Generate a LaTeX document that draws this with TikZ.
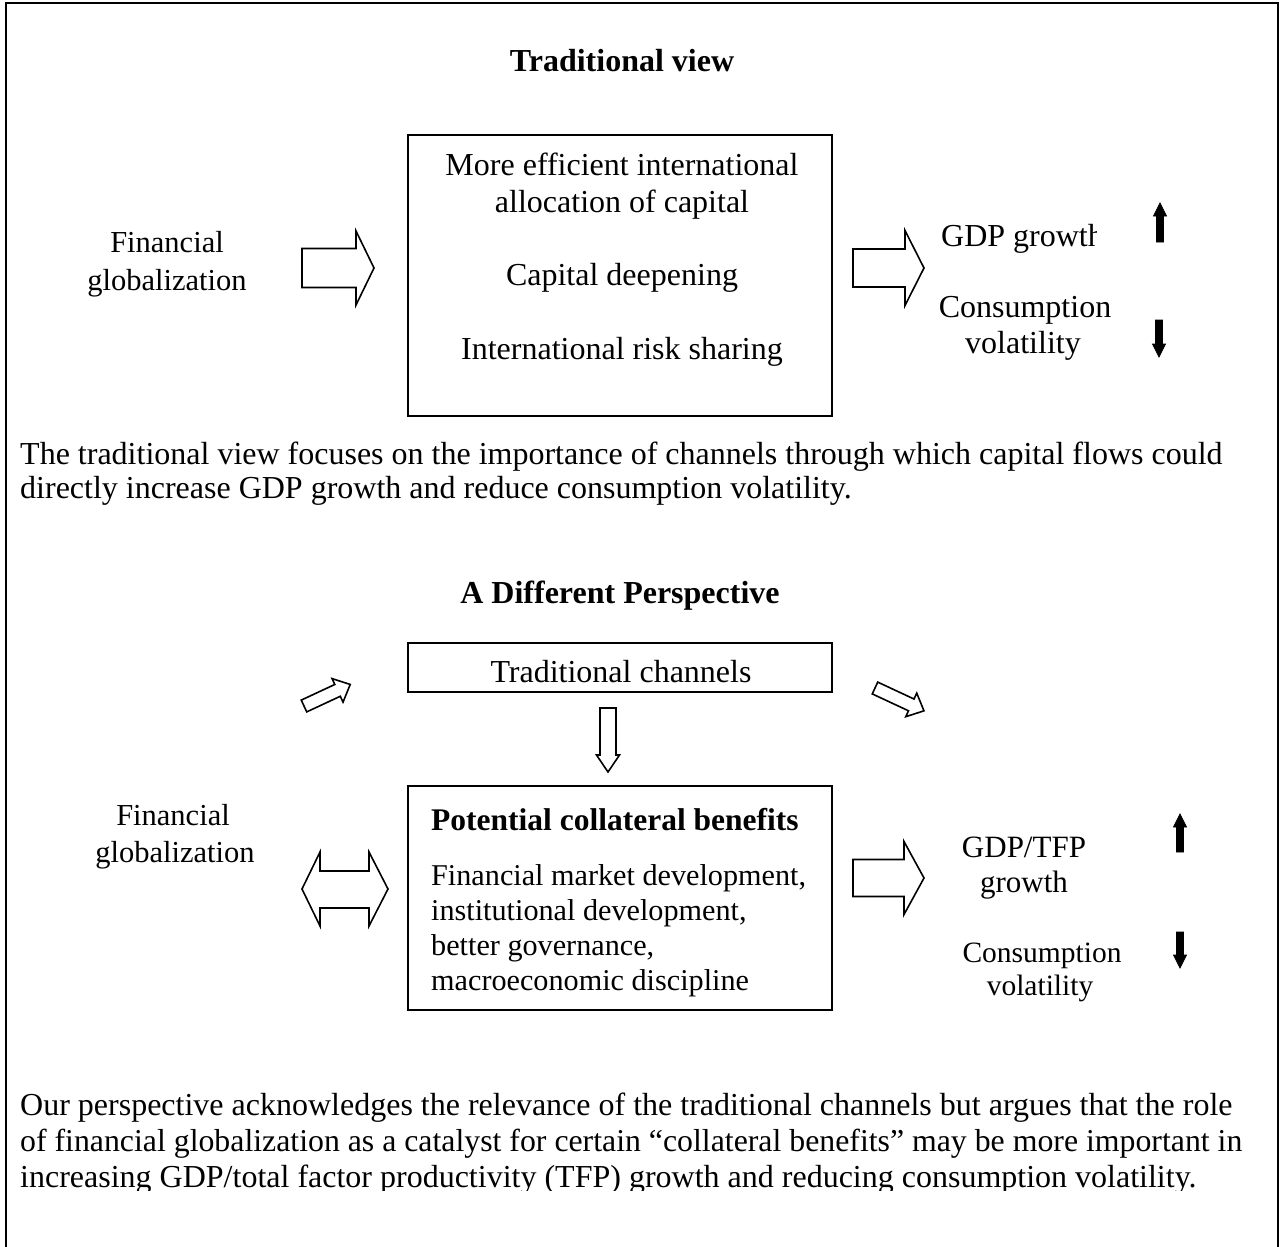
\documentclass[tikz,border=0pt]{standalone}
\usepackage{fontspec}
\setmainfont{Liberation Serif}
\newcommand{\blockarr}[8][]{%
  \draw[#1, shift={(#2,#3)}, rotate=#4] (0,-#6) -- (#5-#8,-#6) -- (#5-#8,-#7) -- (#5,0)
    -- (#5-#8,#7) -- (#5-#8,#6) -- (0,#6) -- cycle;}
\begin{document}
\begin{tikzpicture}[x=1pt,y=-1pt,
  txt/.style={inner sep=0pt, anchor=base, font=\fontsize{32}{36}\selectfont},
  txtl/.style={txt, anchor=base west},
  txtb/.style={inner sep=0pt, anchor=base west, font=\fontsize{30.2}{34}\selectfont},
  txtg/.style={inner sep=0pt, anchor=base, font=\fontsize{30.5}{34}\selectfont},
  txtr/.style={inner sep=0pt, anchor=base, font=\fontsize{31}{34}\selectfont},
  txts/.style={inner sep=0pt, anchor=base, font=\fontsize{29.5}{33}\selectfont},
  ttl/.style={txt, font=\fontsize{32}{36}\selectfont\bfseries},
  boxst/.style={draw, line width=2pt, inner sep=0pt},
  blk/.style={draw, line width=1.6pt, fill=white, line join=miter},
  solid arr/.style={draw, line width=0.8pt, fill=black}]
\useasboundingbox (0,0) rectangle (1280,1247);
% frame
\draw[line width=2pt] (5.8,1300) -- (5.8,3.5) -- (1278,3.5) -- (1278,1300);

% ---------------- Traditional view ----------------
\node[ttl] (t1) at (622,72) {Traditional view};
\node[boxst, minimum width=424, minimum height=281] (box1) at (620,275.5) {};
\node[txt] (b1a) at (622,175) {More efficient international};
\node[txt] (b1b) at (622,212) {allocation of capital};
\node[txt] (b1c) at (622,285) {Capital deepening};
\node[txt] (b1d) at (622,359) {International risk sharing};
\node[txtg] (fg1a) at (167,252) {Financial};
\node[txtg] (fg1b) at (167,290) {globalization};
\blockarr[blk]{302}{268}{0}{72}{19.5}{37}{18}
\blockarr[blk]{853}{268}{0}{71}{19}{37.5}{19}
\begin{scope}
  \clip (930,200) rectangle (1096,270);
  \node[txtl] (gdp1) at (941,246) {GDP growth};
\end{scope}
\node[txt] (cv1a) at (1025,317) {Consumption};
\node[txt] (cv1b) at (1023,353) {volatility};
\blockarr[solid arr]{1160}{242}{90}{39}{3.5}{6.5}{13}
\blockarr[solid arr]{1159}{320}{-90}{37}{3.5}{6.5}{13}
\node[txtl] (p1a) at (20,464) {The traditional view focuses on the importance of channels through which capital flows could};
\node[txtl] (p1b) at (20,498) {directly increase GDP growth and reduce consumption volatility.};

% ---------------- A Different Perspective ----------------
\node[ttl] (t2) at (620,603) {A Different Perspective};
\node[boxst, minimum width=424, minimum height=49] (box2) at (620,667.5) {};
\node[txt] (tc) at (621,682) {Traditional channels};
\blockarr[blk]{304}{706}{25}{51}{6.5}{13}{14}
\blockarr[blk]{875}{688}{-25}{54}{6.5}{13}{14}
\blockarr[blk]{608}{708}{-90}{64}{8}{11.5}{17}
\node[boxst, minimum width=424, minimum height=224] (box3) at (620,898) {};
\node[txtb, font=\fontsize{31.5}{36}\selectfont\bfseries] (pcb) at (431,830) {Potential collateral benefits};
\node[txtb] (pc1) at (431,885) {Financial market development,};
\node[txtb] (pc2) at (431,920) {institutional development,};
\node[txtb] (pc3) at (431,955) {better governance,};
\node[txtb] (pc4) at (431,990) {macroeconomic discipline};
\node[txtg] (fg2a) at (173,825) {Financial};
\node[txtg] (fg2b) at (175,862) {globalization};
\draw[blk] (302,889) -- (320,852) -- (320,871) -- (369,871) -- (369,852) -- (388,889)
  -- (369,926) -- (369,908) -- (320,908) -- (320,926) -- cycle;
\blockarr[blk]{853}{878}{0}{71}{18.5}{36.5}{20}
\node[txtr] (gt1) at (1024,857) {GDP/TFP};
\node[txtr] (gt2) at (1024,892) {growth};
\node[txts] (cv2a) at (1042,962) {Consumption};
\node[txts] (cv2b) at (1040,995) {volatility};
\blockarr[solid arr]{1180}{852}{90}{38}{3.5}{6.5}{13}
\blockarr[solid arr]{1180}{932}{-90}{36}{3.5}{6.5}{13}
\node[txtl] (p2a) at (20,1115) {Our perspective acknowledges the relevance of the traditional channels but argues that the role};
\node[txtl, font=\fontsize{31.8}{36}\selectfont] (p2b) at (20,1151) {of financial globalization as a catalyst for certain “collateral benefits” may be more important in};
\begin{scope}
  \clip (0,1160) rectangle (1270,1190);
  \node[txtl] (p2c) at (20,1187) {increasing GDP/total factor productivity (TFP) growth and reducing consumption volatility.};
\end{scope}
\end{tikzpicture}
\end{document}
